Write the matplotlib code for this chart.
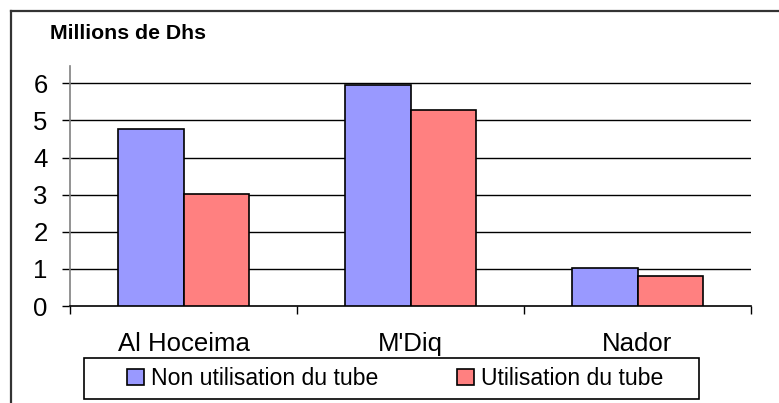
import matplotlib
matplotlib.use("Agg")
import matplotlib.pyplot as plt
from matplotlib.lines import Line2D
from matplotlib.patches import Rectangle
import numpy as np

categories = ["Al Hoceima", "M'Diq", "Nador"]
non_utilisation = [4.77, 5.94, 1.03]
utilisation = [3.03, 5.28, 0.82]
series_labels = ["Non utilisation du tube", "Utilisation du tube"]
yticks = [0, 1, 2, 3, 4, 5, 6]

plt.rcParams['font.family'] = ['Liberation Sans', 'DejaVu Sans']

W, H = 779, 403
FS = 18.5
LFS = 16.6
fig = plt.figure(figsize=(W / 100, H / 100), dpi=100)
ax = fig.add_axes([70 / W, 1 - 306 / H, (751 - 70) / W, (306 - 66) / H])

x = np.arange(len(categories))
bw = 0.29
b1 = ax.bar(x - bw / 2, non_utilisation, bw, color="#9999FF", edgecolor="black", linewidth=1.2, zorder=3)
b2 = ax.bar(x + bw / 2, utilisation, bw, color="#FF8080", edgecolor="black", linewidth=1.2, zorder=3)

ax.set_xlim(-0.5, len(categories) - 0.5)
ax.set_ylim(0, 6.465)
ax.set_yticks(yticks)
ax.set_yticklabels([str(t) for t in yticks], fontsize=FS)
for t in yticks[1:]:
    ax.axhline(t, color="black", linewidth=1.0, zorder=1)

ax.set_xticks(np.arange(-0.5, len(categories), 1.0))
ax.set_xticklabels([])
ax.set_xticks(x, minor=True)
ax.set_xticklabels(categories, minor=True, fontsize=FS)
ax.tick_params(axis='x', which='minor', length=0, pad=19)
ax.tick_params(axis='x', which='major', length=6, width=1, color='black', direction='out')
ax.tick_params(axis='y', length=6, width=1, color='black', direction='out', pad=10)

for s in ['top', 'right']:
    ax.spines[s].set_visible(False)
ax.spines['left'].set_color('#808080')
ax.spines['left'].set_linewidth(1.2)
ax.spines['bottom'].set_color('black')
ax.spines['bottom'].set_linewidth(1.2)

fig.text(50 / W, 1 - 39 / H, "Millions de Dhs", fontsize=15.3, fontweight='bold', va='baseline', ha='left')

# outer chart border (cropped on right and bottom)
fig.add_artist(Line2D([11 / W, 1.0], [1 - 11 / H] * 2, color='#333333', linewidth=1.6, transform=fig.transFigure))
fig.add_artist(Line2D([11 / W] * 2, [0.0, 1 - 11 / H], color='#333333', linewidth=1.6, transform=fig.transFigure))

# legend box
fig.add_artist(Rectangle((84 / W, 1 - 399 / H), (699 - 84) / W, (399 - 358) / H,
                         transform=fig.transFigure, facecolor='white', edgecolor='black', linewidth=1.2))
leg = fig.legend([b1, b2], series_labels, loc='center', bbox_to_anchor=(395 / W, 1 - 378.5 / H),
                 ncol=2, fontsize=LFS, frameon=False,
                 handlelength=0.74, handleheight=0.74, handletextpad=0.3, columnspacing=3.4,
                 borderpad=0, borderaxespad=0)

fig.savefig("out.png", dpi=100)
